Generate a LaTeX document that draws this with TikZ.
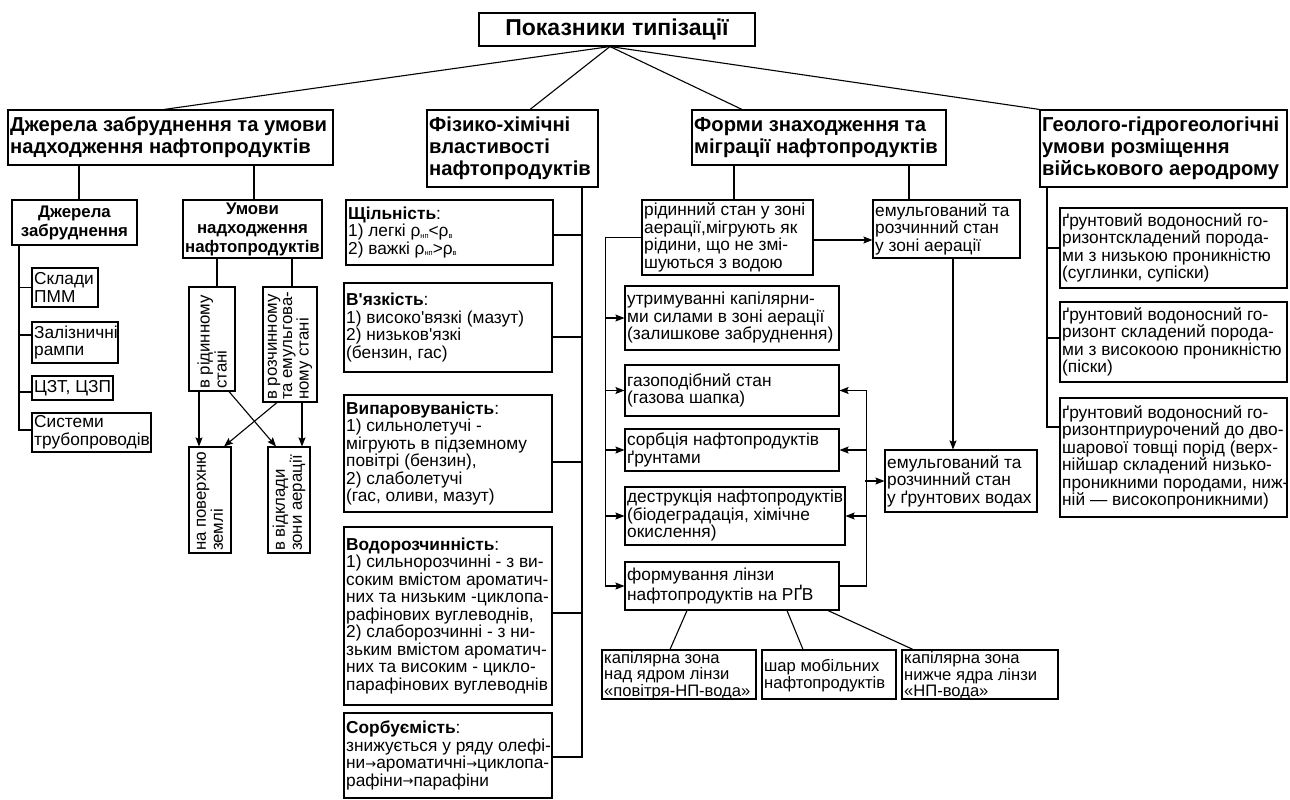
\documentclass[tikz,border=0pt]{standalone}
\usepackage{fontspec}
\newfontfamily\diafont{Liberation Sans}
\newfontfamily\arrowfont{DejaVu Sans}
\usetikzlibrary{arrows.meta}
\newcommand\lo[1]{\raisebox{-1.5pt}{\fontsize{7.5}{7.5}\selectfont #1}}
\newcommand\ar{\raisebox{0.6pt}{\arrowfont\fontsize{13}{13}\selectfont →}}
% box with left-aligned text: name, text style, x, y, W, H, text
\newcommand\bx[7]{%
  \node[box, minimum width=#5pt, minimum height=#6pt] (#1) at ({#3+#5/2},{#4+#6/2}) {};
  \node[#2, anchor=west] (#1t) at ([xshift=2.5pt]#1.west) {#7};}
% box with centred text
\newcommand\bxc[7]{%
  \node[box, minimum width=#5pt, minimum height=#6pt] (#1) at ({#3+#5/2},{#4+#6/2}) {};
  \node[#2] (#1t) at (#1.center) {#7};}
% box with text turned upwards: name, x, y, W, H, text, extra style
\newcommand\bxr[7]{%
  \node[box, minimum width=#4pt, minimum height=#5pt] (#1) at ({#2+#4/2},{#3+#5/2}) {};
  \node[rot, rotate=90, anchor=west, #7] (#1t) at ([yshift=2.5pt]#1.south) {#6};}
\tikzset{
  box/.style={draw, line width=1.1pt, inner sep=0pt},
  reg/.style={font=\diafont\fontsize{17.3}{17.5}\selectfont, align=left, inner sep=0pt},
  regt/.style={reg, font=\diafont\fontsize{17.3}{15.3}\selectfont},
  regk/.style={reg, font=\diafont\fontsize{16.6}{14.4}\selectfont, yshift=-1pt},
  rot/.style={reg, font=\diafont\fontsize{16.8}{17}\selectfont},
  hd/.style={font=\diafont\bfseries\fontsize{20.2}{21.8}\selectfont, align=left, inner sep=0pt},
  subhd/.style={font=\diafont\bfseries\fontsize{16.8}{19}\selectfont, align=center, inner sep=0pt},
  ttl/.style={font=\diafont\bfseries\fontsize{23}{25}\selectfont, align=center, inner sep=0pt},
  ln/.style={line width=1.1pt},
  arr/.style={line width=1.1pt, -{Stealth[length=9pt,width=7pt,inset=1.5pt]}},
}
\begin{document}
\begin{tikzpicture}[x=1pt,y=-1pt]
\useasboundingbox (0,0) rectangle (1290,800);
\fill[white] (0,0) rectangle (1290,800);

% ---------- top level ----------
\bxc{title}{ttl}{479}{13}{276}{33}{Показники типізації}
\bx{b1}{hd}{8}{110}{325}{55}{Джерела забруднення та умови\\надходження нафтопродуктів}
\bx{fiz}{hd}{427}{110}{171}{77}{Фізико-хімічні\\властивості\\нафтопродуктів}
\bx{form}{hd}{692}{110}{254}{55}{Форми знаходження та\\міграції нафтопродуктів}
\bx{geo}{hd}{1040}{110}{247}{77}{Геолого-гідрогеологічні\\умови розміщення\\військового аеродрому}

\coordinate (apex) at (title.south -| 610,0);
\draw[ln] (apex) -- (b1.north -| 164,0);
\draw[ln] (apex) -- (fiz.north -| 530,0);
\draw[ln] (apex) -- (form.north -| 742,0);
\draw[ln] (apex) -- (geo.north west);

% ---------- left column ----------
\bxc{djer}{subhd}{12}{200}{125}{45}{Джерела\\забруднення}
\bxc{umovy}{subhd}{183}{200}{139}{58}{Умови\\надходження\\нафтопродуктів}
\draw[ln] (b1.south -| 79,0) -- (djer.north -| 79,0);
\draw[ln] (b1.south -| 254,0) -- (umovy.north -| 254,0);

\bx{skl}{reg}{32}{268}{66}{39}{Склади\\ПММ}
\bx{zal}{reg}{32}{322}{86}{41}{Залізничні\\рампи}
\bx{czt}{reg}{32}{376}{81}{24}{ЦЗТ, ЦЗП}
\bx{sys}{reg}{32}{413}{119}{39}{Системи\\трубопроводів}
\draw[ln] (djer.south -| 19,0) |- ([yshift=2.5pt]sys.west);
\draw[ln] (skl.west) -- ++(-13,0);
\draw[ln] ([yshift=7.5pt]zal.west) -- ++(-13,0);
\draw[ln] ([yshift=-4pt]czt.west) -- ++(-13,0);

\bxr{r1}{189}{287}{46}{104}{в рідинному\\стані}{}
\bxr{r2}{263}{287}{54}{115}{в розчинному\\та емульгова-\\ному стані}{font=\diafont\fontsize{16.8}{15.2}\selectfont}
\bxr{r3}{189}{447}{42}{106}{на поверхню\\землі}{}
\bxr{r4}{268}{447}{42}{106}{в відклади\\зони аерації}{}
\draw[ln] (umovy.south -| 217,0) -- (r1.north -| 217,0);
\draw[ln] (umovy.south -| 292,0) -- (r2.north -| 292,0);
\draw[arr] (r1.south -| 199,0) -- (r3.north -| 199,0);
\draw[arr] (r1.south -| 229,0) -- (r4.north -| 276,0);
\draw[arr] (r2.south -| 277,0) -- (r3.north -| 224,0);
\draw[arr] (r2.south -| 302,0) -- (r4.north -| 302,0);

% ---------- physico-chemical column ----------
\bx{shch}{regt}{346}{200}{207}{65}{\textbf{Щільність}:\\1) легкі ρ\lo{нп}<ρ\lo{в}\\2) важкі ρ\lo{нп}>ρ\lo{в}}
\bx{vyaz}{reg}{344}{283}{208}{89}{\textbf{В'язкість}:\\1) високо'вязкі (мазут)\\2) низьков'язкі\\(бензин, гас)}
\bx{vyp}{reg}{344}{395}{208}{117}{\textbf{Випаровуваність}:\\1) сильнолетучі -\\мігрують в підземному\\повітрі (бензин),\\2) слаболетучі\\(гас, оливи, мазут)}
\bx{vodo}{reg}{344}{527}{208}{178}{\textbf{Водорозчинність}:\\1) сильнорозчинні - з ви-\\соким вмістом ароматич-\\них та низьким -циклопа-\\рафінових вуглеводнів,\\2) слаборозчинні - з ни-\\зьким вмістом ароматич-\\них та високим - цикло-\\парафінових вуглеводнів}
\bx{sorb}{reg}{344}{713}{208}{85}{\textbf{Сорбуємість}:\\знижується у ряду олефі-\\ни\ar ароматичні\ar циклопа-\\рафіни\ar парафіни}
\draw[ln] (fiz.south -| 582,0) |- ([yshift=-1.5pt]sorb.east);
\draw[ln] ([yshift=-2.5pt]shch.east) -- ++(29,0);
\draw[ln] ([yshift=-9.5pt]vyaz.east) -- ++(30,0);
\draw[ln] ([yshift=-8.5pt]vyp.east) -- ++(30,0);
\draw[ln] ([yshift=3pt]vodo.east) -- ++(30,0);

% ---------- forms of occurrence column ----------
\bx{rid}{reg}{642}{200}{171}{75}{рідинний стан у зоні\\аерації,мігрують як\\рідини, що не змі-\\шуються з водою}
\bx{emu1}{reg}{873}{200}{147}{58}{емульгований та\\розчинний стан\\у зоні аерації}
\bx{utr}{reg}{625}{286}{214}{64}{утримуванні капілярни-\\ми силами в зоні аерації\\(залишкове забруднення)}
\bx{gaz}{reg}{625}{365}{214}{51}{газоподібний стан\\(газова шапка)}
\bx{sorbc}{reg}{625}{429}{214}{42}{сорбція нафтопродуктів\\ґрунтами}
\bx{destr}{reg}{625}{487}{220}{58}{деструкція нафтопродуктів\\(біодеградація, хімічне\\окислення)}
\bx{lens}{reg}{625}{562}{214}{48}{формування лінзи\\нафтопродуктів на РҐВ}
\bx{emu2}{reg}{885}{450}{152}{62}{емульгований та\\розчинний стан\\у ґрунтових водах}
\bx{kap1}{regk}{602}{650}{154}{49}{капілярна зона\\над ядром лінзи\\«повітря-НП-вода»}
\bx{shar}{regk}{762}{650}{134}{49}{шар мобільних\\нафтопродуктів}
\bx{kap2}{regk}{902}{650}{156}{49}{капілярна зона\\нижче ядра лінзи\\«НП-вода»}

\draw[ln] (form.south -| 734,0) -- (rid.north -| 734,0);
\draw[ln] (form.south -| 909,0) -- (emu1.north -| 909,0);
\draw[arr] ([yshift=-2.5pt]rid.east) -- ([yshift=-2.5pt]rid.east -| emu1.west);
\draw[arr] (emu1.south -| 953,0) -- (emu2.north -| 953,0);
\draw[arr] (rid.west) -| ([xshift=-19pt]lens.west) -- (lens.west);
\draw[arr] ([xshift=-19pt]utr.west) -- (utr.west);
\draw[arr] ([xshift=-19pt]gaz.west) -- (gaz.west);
\draw[arr] ([xshift=-19pt]sorbc.west) -- (sorbc.west);
\draw[arr] ([xshift=-19pt]destr.west) -- (destr.west);
\draw[arr] (lens.east) -| ([xshift=27pt]gaz.east) -- (gaz.east);
\draw[arr] ([xshift=27pt]sorbc.east) -- (sorbc.east);
\draw[arr] ([xshift=21pt]destr.east) -- (destr.east);
\draw[arr] ([xshift=-19pt]emu2.west) -- (emu2.west);
\draw[ln] (lens.south -| 687,0) -- (kap1.north -| 670,0);
\draw[ln] (lens.south -| 787,0) -- (shar.north -| 803,0);
\draw[ln] (lens.south -| 828,0) -- (kap2.north -| 913,0);

% ---------- geological column ----------
\bx{g1}{reg}{1060}{208}{227}{80}{ґрунтовий водоносний го-\\ризонтскладений порода-\\ми з низькою проникністю\\(суглинки, супіски)}
\bx{g2}{reg}{1060}{302}{227}{80}{ґрунтовий водоносний го-\\ризонт складений порода-\\ми з високоою проникністю\\(піски)}
\bx{g3}{reg}{1060}{398}{227}{119}{ґрунтовий водоносний го-\\ризонтприурочений до дво-\\шарової товщі порід (верх-\\нійшар складений низько-\\проникними породами, ниж-\\ній — високопроникними)}
\draw[ln] (geo.south -| 1047,0) |- ([yshift=30.5pt]g3.west);
\draw[ln] (g1.west) -- ++(-13,0);
\draw[ln] ([yshift=4pt]g2.west) -- ++(-13,0);
\end{tikzpicture}
\end{document}
